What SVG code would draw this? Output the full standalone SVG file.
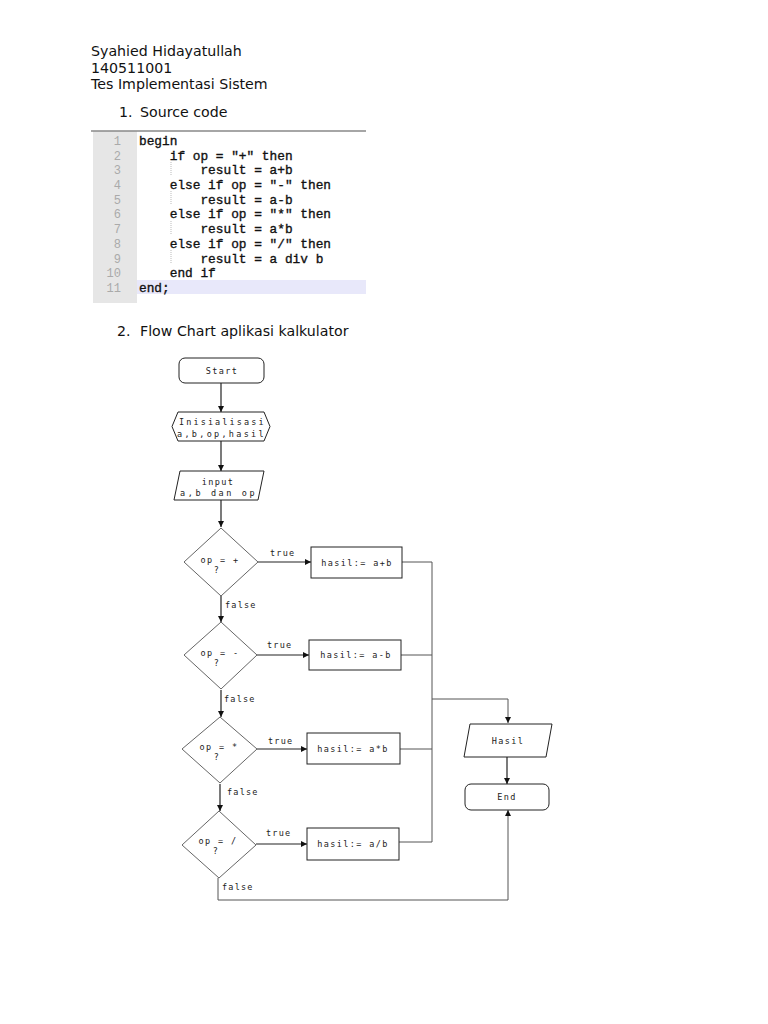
<svg xmlns="http://www.w3.org/2000/svg" width="768" height="1024" viewBox="0 0 768 1024">
<defs>
<marker id="arr" viewBox="0 0 10 10" refX="10" refY="5" markerWidth="6" markerHeight="6" markerUnits="userSpaceOnUse" orient="auto">
<path d="M0,0 L10,5 L0,10 z" fill="#111"/>
</marker>
<style>
.hdr{font-family:"DejaVu Sans",sans-serif;font-size:14.2px;fill:#111}
.code{font-family:"Liberation Mono",monospace;font-size:12.8px;fill:#111;stroke:#111;stroke-width:0.35}
.ln{font-family:"Liberation Mono",monospace;font-size:12px;fill:#aaa;text-anchor:end}
.fc{font-family:"DejaVu Sans Mono",monospace;font-size:8.5px;fill:#222;text-anchor:middle;letter-spacing:1.4px}
.lbl{font-family:"DejaVu Sans Mono",monospace;font-size:8.5px;fill:#222;letter-spacing:1.2px}
.shape{fill:#fff;stroke:#222;stroke-width:1}
.dia{fill:#fff;stroke:#666;stroke-width:1}
.con{fill:none;stroke:#222;stroke-width:1.2}
.con2{fill:none;stroke:#555;stroke-width:1}
</style>
</defs>
<rect width="768" height="1024" fill="#fff"/>
<g id="header">
<text class="hdr" x="91" y="56">Syahied Hidayatullah</text>
<text class="hdr" x="91" y="73">140511001</text>
<text class="hdr" x="91" y="89">Tes Implementasi Sistem</text>
<text class="hdr" x="119" y="117">1.</text>
<text class="hdr" x="140" y="117">Source code</text>
<text class="hdr" x="117" y="336">2.</text>
<text class="hdr" x="140" y="336">Flow Chart aplikasi kalkulator</text>
</g>
<g id="code">
<rect x="93" y="131" width="44" height="172" fill="#e6e6e6"/>
<rect x="137" y="280" width="229" height="14" fill="#e8e8fa"/>
<line x1="91" y1="131" x2="366" y2="131" stroke="#888" stroke-width="1.5"/>
<g stroke="#bbb" stroke-width="1" stroke-dasharray="1,1">
<line x1="171" y1="162" x2="171" y2="176"/>
<line x1="171" y1="191" x2="171" y2="205"/>
<line x1="171" y1="221" x2="171" y2="235"/>
<line x1="171" y1="250" x2="171" y2="264"/>
</g>
<text class="ln" x="121" y="145">1</text>
<text class="ln" x="121" y="160">2</text>
<text class="ln" x="121" y="174">3</text>
<text class="ln" x="121" y="189">4</text>
<text class="ln" x="121" y="204">5</text>
<text class="ln" x="121" y="218">6</text>
<text class="ln" x="121" y="233">7</text>
<text class="ln" x="121" y="248">8</text>
<text class="ln" x="121" y="263">9</text>
<text class="ln" x="121" y="277">10</text>
<text class="ln" x="121" y="292">11</text>
<text class="code" x="139" y="145" xml:space="preserve">begin</text>
<text class="code" x="139" y="160" xml:space="preserve">    if op = "+" then</text>
<text class="code" x="139" y="174" xml:space="preserve">        result = a+b</text>
<text class="code" x="139" y="189" xml:space="preserve">    else if op = "-" then</text>
<text class="code" x="139" y="204" xml:space="preserve">        result = a-b</text>
<text class="code" x="139" y="218" xml:space="preserve">    else if op = "*" then</text>
<text class="code" x="139" y="233" xml:space="preserve">        result = a*b</text>
<text class="code" x="139" y="248" xml:space="preserve">    else if op = "/" then</text>
<text class="code" x="139" y="263" xml:space="preserve">        result = a div b</text>
<text class="code" x="139" y="277" xml:space="preserve">    end if</text>
<text class="code" x="139" y="292" xml:space="preserve">end;</text>
</g>
<g id="connectors">
<line class="con" x1="221" y1="383" x2="221" y2="412" marker-end="url(#arr)"/>
<line class="con" x1="221" y1="441" x2="221" y2="471" marker-end="url(#arr)"/>
<line class="con" x1="221" y1="500" x2="221" y2="527" marker-end="url(#arr)"/>
<line class="con" x1="258" y1="562" x2="311" y2="562" marker-end="url(#arr)"/>
<line class="con" x1="221" y1="596" x2="221" y2="622" marker-end="url(#arr)"/>
<line class="con" x1="257" y1="655" x2="309" y2="655" marker-end="url(#arr)"/>
<line class="con" x1="221" y1="690" x2="221" y2="717" marker-end="url(#arr)"/>
<line class="con" x1="257" y1="749" x2="307" y2="749" marker-end="url(#arr)"/>
<line class="con" x1="220" y1="784" x2="220" y2="811" marker-end="url(#arr)"/>
<line class="con" x1="256" y1="844" x2="307" y2="844" marker-end="url(#arr)"/>
<polyline class="con2" points="402,562 432,562 432,842"/>
<line class="con2" x1="401" y1="655" x2="432" y2="655"/>
<line class="con2" x1="400" y1="749" x2="432" y2="749"/>
<line class="con2" x1="399" y1="842" x2="432" y2="842"/>
<polyline class="con2" points="432,699 508,699 508,723" marker-end="url(#arr)"/>
<line class="con" x1="507" y1="757" x2="507" y2="784" marker-end="url(#arr)"/>
<polyline class="con2" points="218,878 218,900 508,900 508,810" marker-end="url(#arr)"/>
<text class="lbl" x="270" y="556">true</text>
<text class="lbl" x="267" y="648">true</text>
<text class="lbl" x="268" y="744">true</text>
<text class="lbl" x="266" y="836">true</text>
<text class="lbl" x="225" y="608">false</text>
<text class="lbl" x="224" y="702">false</text>
<text class="lbl" x="227" y="795">false</text>
<text class="lbl" x="222" y="890">false</text>
</g>
<g id="start">
<rect class="shape" x="179" y="358" width="85" height="25" rx="6"/>
<text class="fc" x="222" y="374">Start</text>
</g>
<g id="init">
<polygon class="shape" points="178,412 264,412 270,426.5 264,441 178,441 172,426.5"/>
<text class="fc" x="222" y="425" textLength="86">Inisialisasi</text>
<text class="fc" x="221" y="437" textLength="88">a,b,op,hasil</text>
</g>
<g id="input">
<polygon class="shape" points="180,471 264,471 258,500 174,500"/>
<text class="fc" x="218" y="485">input</text>
<text class="fc" x="218" y="496" textLength="76">a,b dan op</text>
</g>
<g id="d1">
<polygon class="dia" points="221,528 258,562 221,596 184,562"/>
<text class="fc" x="220" y="563" xml:space="preserve">op = +</text>
<text class="fc" x="217" y="573">?</text>
</g>
<g id="b1">
<rect class="shape" x="311" y="547" width="91" height="31"/>
<text class="fc" x="357" y="566">hasil:= a+b</text>
</g>
<g id="d2">
<polygon class="dia" points="221,622 257,655 221,689 184,655"/>
<text class="fc" x="220" y="656" xml:space="preserve">op = -</text>
<text class="fc" x="217" y="666">?</text>
</g>
<g id="b2">
<rect class="shape" x="309" y="640" width="92" height="30"/>
<text class="fc" x="356" y="658">hasil:= a-b</text>
</g>
<g id="d3">
<polygon class="dia" points="220,717 257,749 220,783 182,749"/>
<text class="fc" x="219" y="750" xml:space="preserve">op = *</text>
<text class="fc" x="217" y="760">?</text>
</g>
<g id="b3">
<rect class="shape" x="307" y="733" width="93" height="31"/>
<text class="fc" x="353" y="752">hasil:= a*b</text>
</g>
<g id="d4">
<polygon class="dia" points="219,811 256,845 219,878 182,845"/>
<text class="fc" x="218" y="844" xml:space="preserve">op = /</text>
<text class="fc" x="216" y="854">?</text>
</g>
<g id="b4">
<rect class="shape" x="307" y="828" width="92" height="32"/>
<text class="fc" x="353" y="847">hasil:= a/b</text>
</g>
<g id="hasil">
<polygon class="shape" points="470,724 552,724 546,757 464,757"/>
<text class="fc" x="508" y="744">Hasil</text>
</g>
<g id="end">
<rect class="shape" x="465" y="784" width="84" height="26" rx="6"/>
<text class="fc" x="507" y="800">End</text>
</g>
</svg>
